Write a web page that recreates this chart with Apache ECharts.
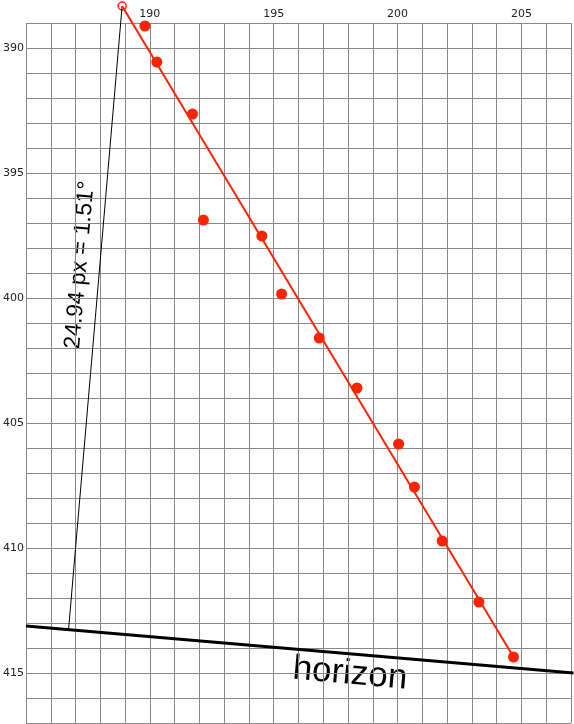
<!DOCTYPE html>
<html>
<head>
<meta charset="utf-8">
<script src="https://cdn.jsdelivr.net/npm/echarts@6/dist/echarts.min.js"></script>
<style>html,body{margin:0;padding:0;background:#fff}#main{width:574px;height:724px}</style>
</head>
<body>
<div id="main"></div>
<script>
var pointX = [189.8, 190.28, 191.72, 192.16, 194.52, 195.32, 196.84, 198.36, 200.04, 200.68, 201.8, 203.28, 204.68];
var pointY = [389.12, 390.56, 392.64, 396.88, 397.52, 399.84, 401.6, 403.6, 405.84, 407.56, 409.72, 412.16, 414.36];
var apex = [188.88, 388.32];
var fitEnd = [204.68, 414.36];
var verticalEnd = [186.72, 413.24];
var horizonLine = [[185, 413.12], [207.1, 415.0]];

var dom = document.getElementById("main");
var myChart = echarts.init(dom);

var red = '#ff2200';
var labelFmt = function (v) { return v % 5 === 0 ? String(v) : ''; };

var option = {
  animation: false,
  grid: { left: 22, top: 23, width: 550, height: 700 },
  xAxis: {
    type: 'value', position: 'top', min: 185, max: 207, interval: 1,
    axisLine: { show: false }, axisTick: { show: false },
    axisLabel: { formatter: labelFmt, showMinLabel: false, color: '#222', fontSize: 11, margin: 3, fontFamily: 'DejaVu Sans' },
    splitLine: { lineStyle: { color: '#888', width: 1 } }
  },
  yAxis: {
    type: 'value', inverse: true, min: 389, max: 417, interval: 1,
    axisLine: { show: false }, axisTick: { show: false },
    axisLabel: { formatter: labelFmt, color: '#222', fontSize: 11, margin: 2, fontFamily: 'DejaVu Sans' },
    splitLine: { lineStyle: { color: '#888', width: 1 } }
  },
  series: [
    {
      type: 'line', data: horizonLine, symbol: 'none', clip: false,
      lineStyle: { color: '#000', width: 3 }
    },
    {
      type: 'line', data: [apex, verticalEnd], symbol: 'none', clip: false,
      lineStyle: { color: '#000', width: 1 }
    },
    {
      type: 'line', data: [apex, fitEnd], symbol: 'none', clip: false,
      lineStyle: { color: red, width: 2 }
    },
    {
      type: 'scatter', data: pointX.map(function (x, i) { return [x, pointY[i]]; }),
      symbolSize: 11, itemStyle: { color: red, opacity: 1 }, clip: false
    },
    {
      type: 'scatter', data: [apex], symbolSize: 8, clip: false,
      itemStyle: { color: '#fff', borderColor: red, borderWidth: 1.5, opacity: 1 }
    }
  ],
  graphic: [
    {
      type: 'text', x: 80, y: 265, rotation: 85 * Math.PI / 180,
      style: { text: '24.94 px = 1.51°', fontSize: 23, fill: '#000', fontFamily: 'Liberation Sans', align: 'center', verticalAlign: 'middle' }
    },
    {
      type: 'text', x: 350, y: 674, rotation: -5 * Math.PI / 180,
      style: { text: 'horizon', fontSize: 35, fill: '#000', fontFamily: 'Liberation Sans', align: 'center', verticalAlign: 'middle' }
    }
  ]
};

myChart.setOption(option);
</script>
</body>
</html>
